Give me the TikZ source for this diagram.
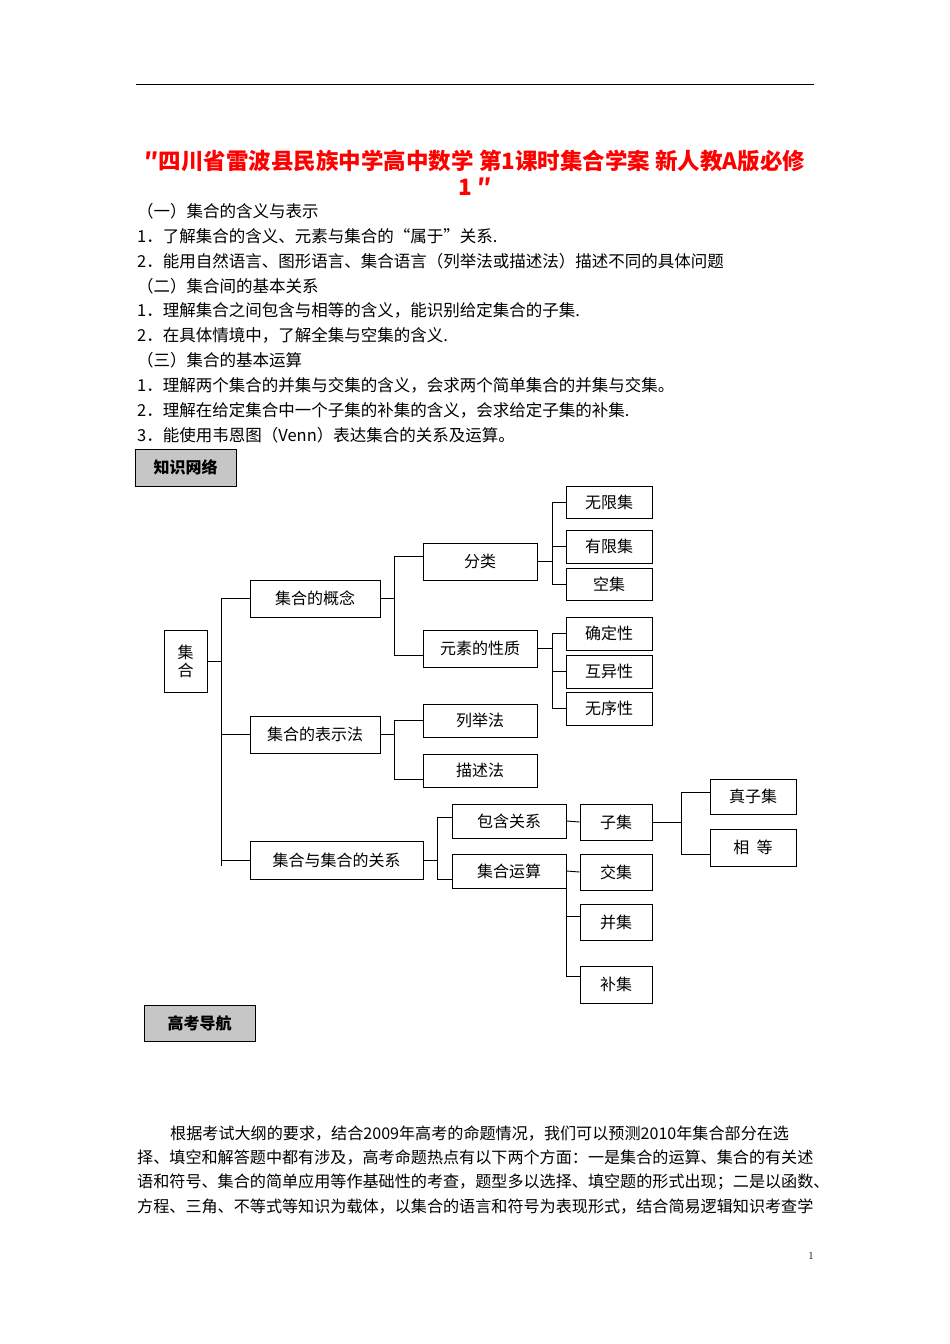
\documentclass[tikz,border=0pt]{standalone}
\usepackage{fontspec}
\newfontfamily\cjk{Noto Sans CJK SC}
\newcommand\cjkb{\cjk\bfseries}
\newcommand\jline[2]{\hbox to #1{\fontsize{16.1}{18}\selectfont #2\hss}}
\begin{document}
\begin{tikzpicture}[x=1pt,y=-1pt,
  bx/.style={draw,line width=0.9pt,inner sep=0pt,font=\cjk\fontsize{16}{18}\selectfont},
  ln/.style={line width=0.9pt},
  tx/.style={anchor=west,inner sep=0pt,font=\cjk\fontsize{16.5}{18}\selectfont}]
\useasboundingbox[fill=white](0,0) rectangle (950,1344);
\draw[line width=0.8pt] (136,84) -- (814,84);
\node[font=\cjkb\fontsize{22.5}{24}\selectfont,text=red,inner sep=0pt] (t1) at (475,161) {″四川省雷波县民族中学高中数学 第1课时集合学案 新人教A版必修};
\node[font=\cjkb\fontsize{22.5}{24}\selectfont,text=red,inner sep=0pt] (t2) at (475,187) {1 ″};
\foreach \y/\s in {211/（一）集合的含义与表示,
 236/1．了解集合的含义、元素与集合的“属于”关系.,
 261/2．能用自然语言、图形语言、集合语言（列举法或描述法）描述不同的具体问题,
 286/（二）集合间的基本关系,
 310/1．理解集合之间包含与相等的含义，能识别给定集合的子集.,
 335/2．在具体情境中，了解全集与空集的含义.,
 360/（三）集合的基本运算,
 385/1．理解两个集合的并集与交集的含义，会求两个简单集合的并集与交集。,
 410/2．理解在给定集合中一个子集的补集的含义，会求给定子集的补集.,
 435/3．能使用韦恩图（Venn）表达集合的关系及运算。}
 \node[tx] at (137,\y) {\s};
\node[draw,line width=1pt,fill=gray!45,minimum width=101pt,minimum height=37pt,font=\cjkb\fontsize{16}{18}\selectfont] (kw) at (185.5,467.5) {知识网络};
\node[draw,line width=1pt,fill=gray!45,minimum width=111pt,minimum height=36pt,font=\cjkb\fontsize{16}{18}\selectfont] (gk) at (199.5,1023) {高考导航};
\newcommand\bx[6]{\node[bx,minimum width=#4pt,minimum height=#5pt] (#1) at (#2,#3) {#6};}
\node[bx,minimum width=43pt,minimum height=62pt,align=center] (ji) at (185.5,661) {集\\合};
\bx{gn}{315}{598.5}{130}{37}{集合的概念}
\bx{bs}{315}{734.5}{130}{37}{集合的表示法}
\bx{gx}{336.5}{860}{173}{38}{集合与集合的关系}
\bx{fl}{480}{561.5}{114}{37}{分类}
\bx{xz}{480}{648.5}{114}{37}{元素的性质}
\bx{wx}{609}{502}{86}{32}{无限集}
\bx{yx}{609}{546.5}{86}{33}{有限集}
\bx{kj}{609}{584}{86}{32}{空集}
\bx{qd}{609}{633.5}{86}{33}{确定性}
\bx{hy}{609}{671.5}{86}{33}{互异性}
\bx{wu}{609}{708.5}{86}{33}{无序性}
\bx{lj}{480}{720.5}{114}{33}{列举法}
\bx{ms}{480}{770.5}{114}{33}{描述法}
\bx{bh}{509}{821}{114}{34}{包含关系}
\bx{ys}{509}{871}{114}{34}{集合运算}
\bx{zj}{616}{822}{72}{36}{子集}
\bx{zz}{753}{796.5}{86}{35}{真子集}
\bx{xd}{753}{847.5}{86}{37}{相\ \ 等}
\bx{jj}{616}{872}{72}{36}{交集}
\bx{bj}{616}{922}{72}{36}{并集}
\bx{bu}{616}{984.5}{72}{37}{补集}
% connectors
\draw[ln] (ji.east) -- (221,661);
\draw[ln] (221,598.5) -- (221,866);
\draw[ln] (gn.west) -- ++(-29,0);
\draw[ln] (bs.west) -- ++(-29,0);
\draw[ln] (gx.west) -- ++(-29,0);
\draw[ln] (gn.east) -- (394,598.5);
\draw[ln] (394,556) -- (394,655);
\draw[ln] (394,556) -- (423,556);
\draw[ln] (394,655) -- (423,655);
\draw[ln] (fl.east) -- (552,561.5);
\draw[ln] (552,502) -- (552,584);
\foreach \n in {wx,yx,kj} \draw[ln] (\n.west) -- ++(-14,0);
\draw[ln] (xz.east) -- (552,648.5);
\draw[ln] (552,633.5) -- (552,708.5);
\foreach \n in {qd,hy,wu} \draw[ln] (\n.west) -- ++(-14,0);
\draw[ln] (bs.east) -- (394,734.5);
\draw[ln] (394,720.5) -- (394,779);
\draw[ln] (lj.west) -- ++(-29,0);
\draw[ln] (394,779) -- (423,779);
\draw[ln] (gx.east) -- (437,860);
\draw[ln] (437,817) -- (437,879);
\draw[ln] (437,817) -- (452,817);
\draw[ln] (437,879) -- (452,879);
\draw[ln] (bh.east) -- (zj.west);
\draw[ln] (zj.east) -- (681,822);
\draw[ln] (681,792) -- (681,854);
\draw[ln] (681,792) -- (710,792);
\draw[ln] (681,854) -- (710,854);
\draw[ln] (ys.east) -- (jj.west);
\draw[ln] (566,871) -- (566,976);
\draw[ln] (566,916) -- (580,916);
\draw[ln] (566,976) -- (580,976);
% paragraph
\node[tx] (p1) at (170,1133) {\jline{644pt}{根据考试大纲的要求，结合2009年高考的命题情况，我们可以预测2010年集合部分在选}};
\node[tx] (p2) at (137,1157) {\jline{677pt}{择、填空和解答题中都有涉及，高考命题热点有以下两个方面：一是集合的运算、集合的有关述}};
\node[tx] (p3) at (137,1182) {\jline{677pt}{语和符号、集合的简单应用等作基础性的考查，题型多以选择、填空题的形式出现；二是以函数、}};
\node[tx] (p4) at (137,1207) {\jline{677pt}{方程、三角、不等式等知识为载体，以集合的语言和符号为表现形式，结合简易逻辑知识考查学}};
\node[font=\fontsize{11}{12}\selectfont] (pn) at (811,1256) {1};
\end{tikzpicture}
\end{document}
